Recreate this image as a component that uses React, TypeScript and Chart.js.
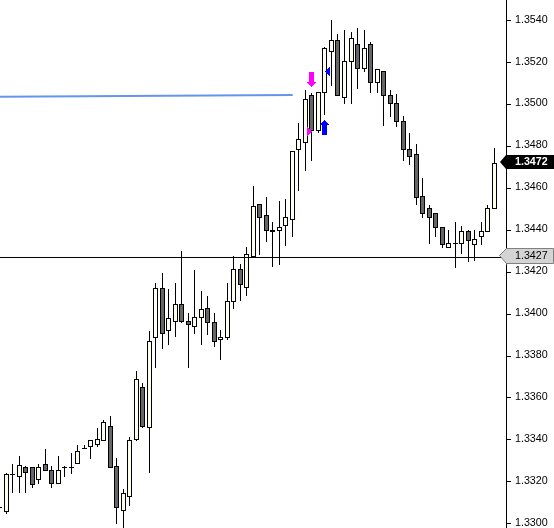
import React, { useEffect, useRef } from 'react';
import { Chart, registerables, BarController } from 'chart.js';

// ---------- data ----------
const FIRST_BAR = -1;
const OPEN = [
  1.33077,
  1.33059, 1.33233, 1.33224, 1.33266, 1.33266, 1.33213, 1.33283, 1.33256, 1.33194, 1.33267,
  1.33266, 1.33285, 1.33357, 1.33368, 1.33377, 1.33395, 1.33466, 1.33274, 1.33061, 1.33132,
  1.33402, 1.33649, 1.33457, 1.33886, 1.34120, 1.33920, 1.33967, 1.34048, 1.33967, 1.33939,
  1.33986, 1.34029, 1.33958, 1.33877, 1.33886, 1.34058, 1.34211, 1.34129, 1.34277, 1.34522,
  1.34468, 1.34392, 1.34401, 1.34421, 1.34449, 1.34783, 1.34821, 1.35041, 1.34874, 1.35055,
  1.35255, 1.35304, 1.35031, 1.35203, 1.35284, 1.35174, 1.35284, 1.35103, 1.35155, 1.35041,
  1.35003, 1.34921, 1.34783, 1.34759, 1.34559, 1.34502, 1.34478, 1.34411, 1.34320, 1.34339,
  1.34339, 1.34392, 1.34330, 1.34368, 1.34392, 1.34502,
];
const HIGH = [
  1.33077,
  1.33239, 1.33280, 1.33320, 1.33272, 1.33266, 1.33280, 1.33353, 1.33271, 1.33320, 1.33272,
  1.33337, 1.33372, 1.33372, 1.33396, 1.33452, 1.33491, 1.33511, 1.33309, 1.33161, 1.33410,
  1.33725, 1.33671, 1.33916, 1.34145, 1.34196, 1.34116, 1.34144, 1.34297, 1.34001, 1.34206,
  1.34106, 1.34082, 1.34001, 1.33924, 1.34144, 1.34273, 1.34235, 1.34316, 1.34608, 1.34525,
  1.34554, 1.34435, 1.34535, 1.34545, 1.34775, 1.34907, 1.35069, 1.35054, 1.35057, 1.35271,
  1.35400, 1.35332, 1.35352, 1.35343, 1.35362, 1.35352, 1.35298, 1.35165, 1.35155, 1.35069,
  1.35050, 1.34945, 1.34861, 1.34807, 1.34645, 1.34516, 1.34478, 1.34411, 1.34397, 1.34435,
  1.34416, 1.34397, 1.34401, 1.34435, 1.34520, 1.34788,
];
const LOW = [
  1.33077,
  1.33048, 1.33150, 1.33150, 1.33150, 1.33175, 1.33194, 1.33256, 1.33175, 1.33194, 1.33223,
  1.33240, 1.33285, 1.33357, 1.33313, 1.33366, 1.33395, 1.33266, 1.33002, 1.32978, 1.33085,
  1.33395, 1.33457, 1.33242, 1.33746, 1.33837, 1.33857, 1.33895, 1.33958, 1.33746, 1.33905,
  1.33856, 1.33904, 1.33846, 1.33785, 1.33877, 1.34027, 1.34067, 1.34087, 1.34268, 1.34284,
  1.34348, 1.34228, 1.34238, 1.34329, 1.34368, 1.34592, 1.34683, 1.34731, 1.34866, 1.34950,
  1.35090, 1.35041, 1.35003, 1.35003, 1.35074, 1.35155, 1.35055, 1.35055, 1.34902, 1.34941,
  1.34893, 1.34731, 1.34712, 1.34521, 1.34459, 1.34339, 1.34368, 1.34320, 1.34320, 1.34222,
  1.34287, 1.34249, 1.34258, 1.34330, 1.34392, 1.34502,
];
const CLOSE = [
  1.33077,
  1.33234, 1.33233, 1.33276, 1.33244, 1.33185, 1.33266, 1.33256, 1.33194, 1.33256, 1.33267,
  1.33266, 1.33342, 1.33357, 1.33395, 1.33403, 1.33485, 1.33266, 1.33075, 1.33142, 1.33395,
  1.33687, 1.33466, 1.33867, 1.34120, 1.33905, 1.33977, 1.34048, 1.33967, 1.33948, 1.33986,
  1.34020, 1.33958, 1.33867, 1.33886, 1.34058, 1.34211, 1.34139, 1.34286, 1.34511, 1.34459,
  1.34401, 1.34401, 1.34411, 1.34459, 1.34774, 1.34831, 1.35022, 1.34874, 1.35055, 1.35265,
  1.35304, 1.35041, 1.35203, 1.35313, 1.35174, 1.35265, 1.35103, 1.35165, 1.35041, 1.35003,
  1.34921, 1.34783, 1.34750, 1.34558, 1.34478, 1.34459, 1.34411, 1.34330, 1.34339, 1.34339,
  1.34392, 1.34349, 1.34358, 1.34392, 1.34502, 1.34720,
];

const Y_TICKS = [1.3300, 1.3320, 1.3340, 1.3360, 1.3380, 1.3400, 1.3420, 1.3440, 1.3460, 1.3480, 1.3500, 1.3520, 1.3540];
const Y_MIN = 1.329794;
const Y_MAX = 1.354985;
const X_MIN = -0.925;
const X_MAX = 76.81;

const H_LINE = 1.3427;
const LAST_PRICE = 1.3472;

const TREND_X = [-3, 44.04];
const TREND_Y = [1.35036, 1.35045];

const ARROW_DOWN_X = [47];
const ARROW_DOWN_Y = [1.35117];
const ARROW_UP_X = [49];
const ARROW_UP_Y = [1.34891];
const MARK_RIGHT_X = [46.59];
const MARK_RIGHT_Y = [1.34873];
const MARK_LEFT_X = [49.36];
const MARK_LEFT_Y = [1.35155];

const FONT_FAMILY = "'Liberation Sans', Arial, sans-serif";

// ---------- candlestick controller ----------
class CandlestickController extends (BarController as any) {
  static id = 'candlestick';
  draw() {
    const self: any = this;
    const ctx = self.chart.ctx;
    const meta = self._cachedMeta;
    const xs = meta.iScale;
    const ys = meta.vScale;
    const ds = self.getDataset();
    ctx.save();
    ds.data.forEach((d: any) => {
      const cx = Math.floor(xs.getPixelForValue(d.x));
      const yH = Math.floor(ys.getPixelForValue(d.y[1]));
      const yL = Math.floor(ys.getPixelForValue(d.y[0]));
      const yO = Math.floor(ys.getPixelForValue(d.o));
      const yC = Math.floor(ys.getPixelForValue(d.c));
      const top = Math.min(yO, yC);
      const bot = Math.max(yO, yC);
      ctx.fillStyle = ds.lineColor;
      ctx.fillRect(cx, yH, 1, yL - yH + 1);
      ctx.fillRect(cx - 2, top, 5, bot - top + 1);
      if (bot - top >= 2) {
        ctx.fillStyle = d.c >= d.o ? ds.upColor : ds.downColor;
        ctx.fillRect(cx - 1, top + 1, 3, bot - top - 1);
      }
    });
    ctx.restore();
  }
}

Chart.register(...registerables);
Chart.register(CandlestickController as any);

function makeCanvas(w: number, h: number, color: string, rows: Array<[number, number, number]>) {
  const c = document.createElement('canvas');
  c.width = w;
  c.height = h;
  const g = c.getContext('2d')!;
  g.fillStyle = color;
  rows.forEach(([x, y, len]) => g.fillRect(x, y, len, 1));
  return c;
}

function arrowDown(color: string) {
  const rows: Array<[number, number, number]> = [];
  for (let r = 0; r < 10; r++) rows.push([2, r, 5]);
  for (let r = 0; r < 5; r++) rows.push([r, 10 + r, 9 - 2 * r]);
  return makeCanvas(9, 15, color, rows);
}
function arrowUp(color: string) {
  const rows: Array<[number, number, number]> = [];
  for (let r = 0; r < 5; r++) rows.push([4 - r, r, 1 + 2 * r]);
  for (let r = 5; r < 15; r++) rows.push([2, r, 5]);
  return makeCanvas(9, 15, color, rows);
}
function triRight(color: string) {
  const c = document.createElement('canvas');
  c.width = 5; c.height = 9;
  const g = c.getContext('2d')!;
  g.fillStyle = color;
  for (let col = 0; col < 5; col++) g.fillRect(col, col, 1, 9 - 2 * col);
  return c;
}
function triLeft(color: string) {
  const c = document.createElement('canvas');
  c.width = 5; c.height = 9;
  const g = c.getContext('2d')!;
  g.fillStyle = color;
  for (let col = 0; col < 5; col++) g.fillRect(4 - col, col, 1, 9 - 2 * col);
  return c;
}

const tagPlugin = {
  id: 'priceTags',
  beforeDatasetsDraw(chart: any) {
    chart.ctx.imageSmoothingEnabled = false;
  },
  afterDraw(chart: any) {
    const ctx = chart.ctx;
    const ys = chart.scales.y;
    ctx.save();
    ctx.imageSmoothingEnabled = true;
    // grey tag for horizontal line
    {
      const fl = Math.floor(ys.getPixelForValue(H_LINE));
      const top = fl - 9;
      const bot = fl + 6;
      const mid = (top + bot) / 2;
      ctx.beginPath();
      ctx.moveTo(499.5, mid);
      ctx.lineTo(506.5, top + 0.5);
      ctx.lineTo(553.5, top + 0.5);
      ctx.lineTo(553.5, bot + 0.5);
      ctx.lineTo(506.5, bot + 0.5);
      ctx.closePath();
      ctx.fillStyle = '#D4D4D4';
      ctx.fill();
      ctx.strokeStyle = '#808080';
      ctx.lineWidth = 1;
      ctx.stroke();
      ctx.fillStyle = '#000';
      ctx.font = `10.7px ${FONT_FAMILY}`;
      ctx.textBaseline = 'middle';
      ctx.textAlign = 'left';
      ctx.fillText(H_LINE.toFixed(4), 515, mid + 0.5);
    }
    // black tag for last price
    {
      const fl = Math.floor(ys.getPixelForValue(LAST_PRICE));
      const top = fl - 8;
      const bot = fl + 6;
      const mid = (top + bot) / 2;
      ctx.beginPath();
      ctx.moveTo(500, mid);
      ctx.lineTo(506, top);
      ctx.lineTo(554, top);
      ctx.lineTo(554, bot);
      ctx.lineTo(506, bot);
      ctx.closePath();
      ctx.fillStyle = '#000';
      ctx.fill();
      ctx.fillStyle = '#fff';
      ctx.font = `bold 10.7px ${FONT_FAMILY}`;
      ctx.textBaseline = 'middle';
      ctx.textAlign = 'left';
      ctx.fillText(LAST_PRICE.toFixed(4), 515, mid);
    }
    ctx.restore();
  },
};

export default function App() {
  const ref = useRef<HTMLCanvasElement | null>(null);

  useEffect(() => {
    if (!ref.current) return;
    const candles = OPEN.map((o, k) => ({
      x: FIRST_BAR + k,
      y: [LOW[k], HIGH[k]],
      o,
      c: CLOSE[k],
    }));
    const pts = (xs: number[], ys: number[]) => xs.map((x, k) => ({ x, y: ys[k] }));

    const chart = new Chart(ref.current, {
      type: 'scatter',
      data: {
        datasets: [
          {
            type: 'candlestick',
            data: candles,
            lineColor: '#000000',
            upColor: '#FFFFF0',
            downColor: '#666666',
            order: 10,
          } as any,
          {
            type: 'line',
            data: pts([X_MIN - 3, X_MAX + 3], [H_LINE, H_LINE]),
            borderColor: '#000000',
            borderWidth: 1,
            pointRadius: 0,
            order: 2,
          },
          {
            type: 'line',
            data: pts(TREND_X, TREND_Y),
            borderColor: '#6495ED',
            borderWidth: 2,
            pointRadius: 0,
            order: 2,
          },
          {
            type: 'scatter',
            data: pts(ARROW_DOWN_X, ARROW_DOWN_Y),
            pointStyle: arrowDown('#FF00FF'),
            pointRadius: 5,
            order: 0,
          } as any,
          {
            type: 'scatter',
            data: pts(ARROW_UP_X, ARROW_UP_Y),
            pointStyle: arrowUp('#0000FF'),
            pointRadius: 5,
            order: 0,
          } as any,
          {
            type: 'scatter',
            data: pts(MARK_RIGHT_X, MARK_RIGHT_Y),
            pointStyle: triRight('#FF00FF'),
            pointRadius: 5,
            order: 0,
          } as any,
          {
            type: 'scatter',
            data: pts(MARK_LEFT_X, MARK_LEFT_Y),
            pointStyle: triLeft('#0000FF'),
            pointRadius: 5,
            order: 0,
          } as any,
        ],
      },
      options: {
        responsive: false,
        devicePixelRatio: 1,
        animation: false,
        layout: { padding: 0, autoPadding: false },
        plugins: { legend: { display: false }, tooltip: { enabled: false } },
        events: [],
        scales: {
          x: {
            type: 'linear',
            display: false,
            min: X_MIN,
            max: X_MAX,
            offset: false,
          },
          y: {
            type: 'linear',
            position: 'right',
            min: Y_MIN,
            max: Y_MAX,
            beginAtZero: false,
            afterBuildTicks: (scale: any) => {
              scale.ticks = Y_TICKS.map((v) => ({ value: v }));
            },
            afterFit: (scale: any) => {
              scale.width = 48;
              scale.paddingTop = 0;
              scale.paddingBottom = 0;
            },
            grid: {
              drawOnChartArea: false,
              drawTicks: true,
              tickLength: 5,
              color: '#000000',
              lineWidth: 1,
            },
            border: { display: true, color: '#000000', width: 1 },
            ticks: {
              padding: 4,
              color: '#000000',
              labelOffset: -1,
              autoSkip: false,
              font: { family: FONT_FAMILY, size: 10.7 },
              callback: (v: any) => Number(v).toFixed(4),
            },
          },
        },
      } as any,
      plugins: [tagPlugin],
    });
    return () => chart.destroy();
  }, []);

  return (
    <div
      style={{
        position: 'fixed',
        left: 0,
        top: 0,
        width: 554,
        height: 528,
        overflow: 'hidden',
        background: '#ffffff',
      }}
    >
      <canvas ref={ref} width={554} height={528} style={{ display: 'block', width: 554, height: 528 }} />
    </div>
  );
}
